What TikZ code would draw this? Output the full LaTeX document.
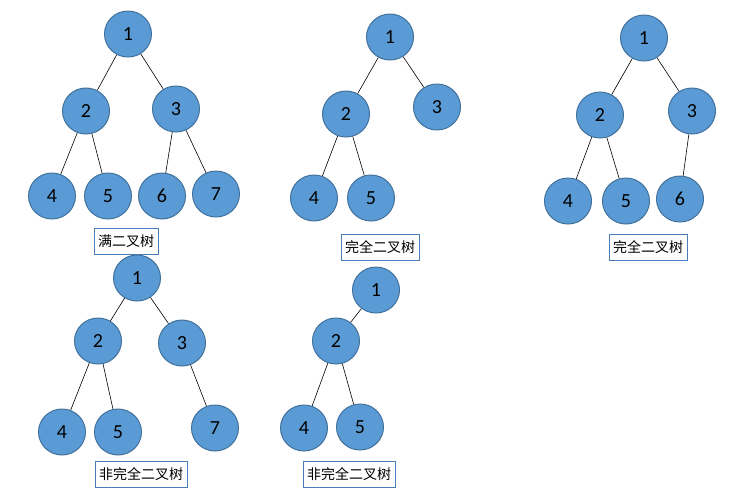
\documentclass[tikz,border=0pt]{standalone}
\usepackage{fontspec}
\setmainfont{Carlito}
\newfontfamily\cjk{Noto Sans CJK SC}
\definecolor{nfill}{HTML}{5B9BD5}
\definecolor{nline}{HTML}{41719C}
\definecolor{lbox}{HTML}{4A7EBB}
\begin{document}
\begin{tikzpicture}[x=1pt,y=-1pt,
  tn/.style={ellipse,fill=nfill,draw=nline,line width=1pt,minimum width=47pt,minimum height=46pt,inner sep=0pt,font=\fontsize{20}{20}\selectfont},
  lb/.style={draw=lbox,line width=0.6pt,font=\cjk\fontsize{14}{14}\selectfont,inner xsep=4pt,minimum height=26pt},
  ed/.style={draw=black,line width=0.6pt}]
\usetikzlibrary{shapes.geometric}
\useasboundingbox (0,0) rectangle (741,499);
% tree 1
\node[tn] (a1) at (128,34) {1};
\node[tn] (a2) at (86,111) {2};
\node[tn] (a3) at (176,109) {3};
\node[tn] (a4) at (52,196) {4};
\node[tn] (a5) at (108,196) {5};
\node[tn] (a6) at (162,196) {6};
\node[tn] (a7) at (216,194) {7};
\draw[ed] (a1)--(a2) (a1)--(a3) (a2)--(a4) (a2)--(a5) (a3)--(a6) (a3)--(a7);
\node[lb] (la) at (126,241) {满二叉树};
% tree 2
\node[tn] (b1) at (390,37) {1};
\node[tn] (b2) at (346,114) {2};
\node[tn] (b3) at (437,107) {3};
\node[tn] (b4) at (314,198) {4};
\node[tn] (b5) at (371,198) {5};
\draw[ed] (b1)--(b2) (b1)--(b3) (b2)--(b4) (b2)--(b5);
\node[lb] (lb2) at (380,247) {完全二叉树};
% tree 3
\node[tn] (c1) at (644,38) {1};
\node[tn] (c2) at (600,115) {2};
\node[tn] (c3) at (692,111) {3};
\node[tn] (c4) at (568,201) {4};
\node[tn] (c5) at (626,201) {5};
\node[tn] (c6) at (680,199) {6};
\draw[ed] (c1)--(c2) (c1)--(c3) (c2)--(c4) (c2)--(c5) (c3)--(c6);
\node[lb] (lc) at (648,247) {完全二叉树};
% tree 4
\node[tn] (d1) at (137,278) {1};
\node[tn] (d2) at (98,341) {2};
\node[tn] (d3) at (182,343) {3};
\node[tn] (d4) at (62,432) {4};
\node[tn] (d5) at (118,432) {5};
\node[tn] (d7) at (215,428) {7};
\draw[ed] (d1)--(d2) (d1)--(d3) (d2)--(d4) (d2)--(d5) (d3)--(d7);
\node[lb] (ld) at (141,474) {非完全二叉树};
% tree 5
\node[tn] (e1) at (376,290) {1};
\node[tn] (e2) at (336,341) {2};
\node[tn] (e4) at (304,428) {4};
\node[tn] (e5) at (360,427) {5};
\draw[ed] (e1)--(e2) (e2)--(e4) (e2)--(e5);
\node[lb] (le) at (349,474) {非完全二叉树};
\end{tikzpicture}
\end{document}
